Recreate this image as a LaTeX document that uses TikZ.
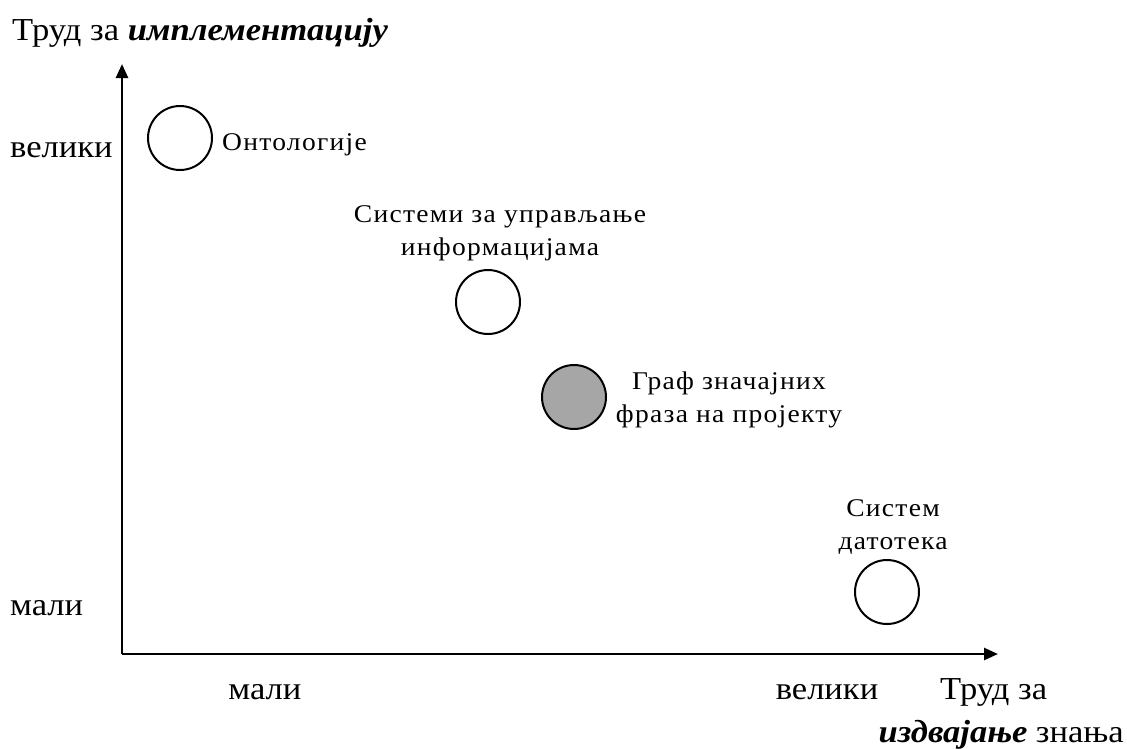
\documentclass[tikz,border=0pt]{standalone}
\usepackage{fontspec}
\setmainfont{Liberation Serif}[FakeStretch=1.08]
\newfontfamily\lblfont{Liberation Serif}[FakeStretch=1.08,LetterSpace=5]
\usetikzlibrary{arrows.meta}
\begin{document}
\begin{tikzpicture}[x=1pt,y=-1pt,
  axis/.style={line width=2.6pt,-{Triangle[length=14pt,width=12pt]}},
  spot/.style={circle,draw,line width=2pt,minimum size=64pt,inner sep=0pt},
  big/.style={font=\fontsize{32}{40}\selectfont,inner sep=0pt},
  small/.style={font=\lblfont\fontsize{25.5}{33}\selectfont,inner sep=0pt,align=center}]
\useasboundingbox (0,0) rectangle (1127,748);
% axes
\coordinate (o) at (122,654);
\coordinate (ytip) at (122,64);
\coordinate (xtip) at (998,654);
\draw[axis] (o) -- (ytip);
\draw[axis] (o) -- (xtip);
% axis titles and scale words
\node[big,anchor=west] (ytitle) at (12,33) {Труд за \textbf{\textit{имплементацију}}};
\node[big,anchor=west] (yhi) at (10,150) {велики};
\node[big,anchor=west] (ylo) at (10,608) {мали};
\node[big] (xlo) at (265,692) {мали};
\node[big] (xhi) at (827,692) {велики};
\node[big,anchor=west] (xtitle1) at (940,692) {Труд за};
\node[big,anchor=east] (xtitle2) at (1124,735) {\textbf{\textit{издвајање}} знања};
% systems
\node[spot] (onto) at (180,138) {};
\node[small,anchor=west] (ontol) at (222,145) {Онтологије};
\node[spot] (ims) at (488,302) {};
\node[small] (imsl) at (500,233) {Системи за управљање\\информацијама};
\node[spot,fill={rgb,255:red,166;green,166;blue,166}] (graph) at (574,397) {};
\node[small] (graphl) at (729,400) {Граф значајних\\фраза на пројекту};
\node[spot] (fs) at (887,592) {};
\node[small] (fsl) at (893,527) {Систем\\датотека};
\end{tikzpicture}
\end{document}
